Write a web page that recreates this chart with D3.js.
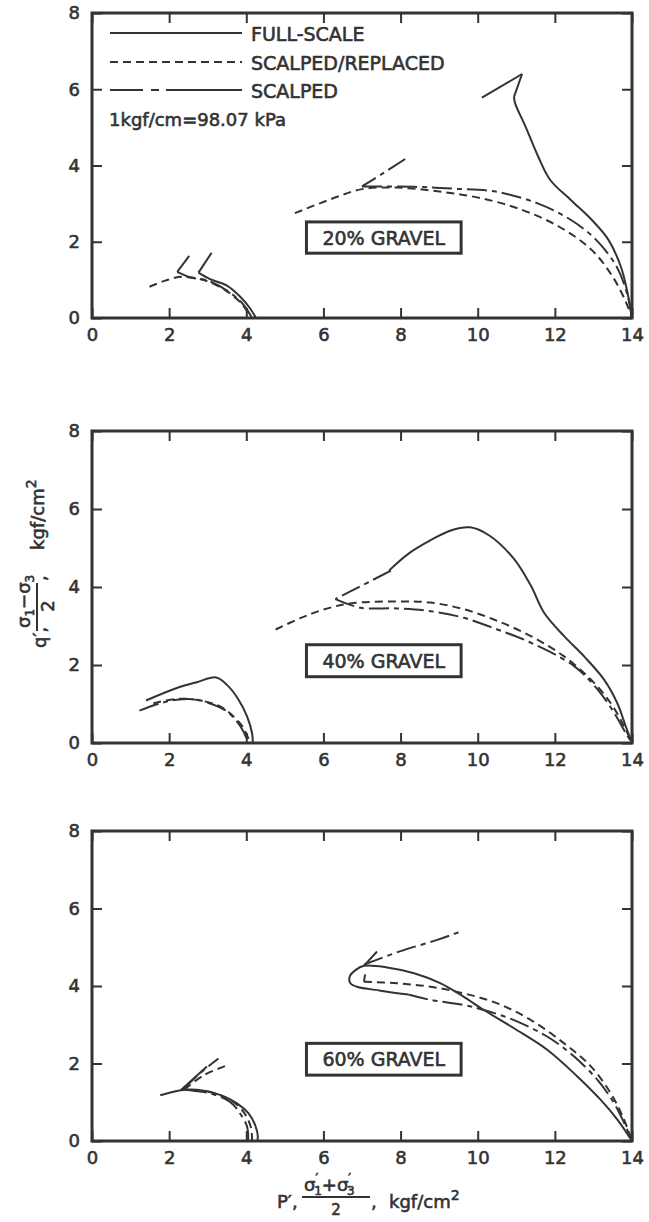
<!DOCTYPE html>
<html>
<head>
<meta charset="utf-8">
<title>Stress paths - 20, 40, 60% gravel</title>
<script src="https://cdnjs.cloudflare.com/ajax/libs/d3/7.8.5/d3.min.js"></script>
<style>
  body { margin: 0; background: #fff; }
  text { font-family: "DejaVu Sans", sans-serif; fill: #333; stroke: #333; stroke-width: 0.6px; }
</style>
</head>
<body>
<script>
// ---- data: p' (x) and q (y), kgf/cm2 ----
var xTicks = [0, 2, 4, 6, 8, 10, 12, 14];
var yTicks = [0, 2, 4, 6, 8];
var panelLabels = ['20% GRAVEL', '40% GRAVEL', '60% GRAVEL'];
var seriesNames = ['FULL-SCALE', 'SCALPED/REPLACED', 'SCALPED'];
var unitNote = '1kgf/cm=98.07 kPa';

// each curve is a list of pieces (pieces split at the sharp kinks)
var full20 = [
  [[3.10, 1.71], [2.76, 1.19]],
  [[2.76, 1.19], [3.06, 1.02], [3.5, 0.85], [3.85, 0.55], [4.1, 0.25], [4.25, 0]],
  [[10.11, 5.78], [11.15, 6.40]],
  [[11.15, 6.40], [10.94, 5.80]],
  [[10.94, 5.80], [10.97, 5.63], [11.24, 5.02], [11.57, 4.23], [11.88, 3.62], [12.42, 3.09],
   [12.96, 2.57], [13.39, 2.05], [13.71, 1.35], [13.87, 0.73], [14, 0]]
];
var replaced20 = [
  [[1.49, 0.82], [1.9, 0.98], [2.33, 1.08], [2.98, 0.97], [3.5, 0.7], [3.9, 0.35], [4.12, 0]],
  [[5.26, 2.75], [6.2, 3.12], [7.0, 3.38], [7.9, 3.42], [8.9, 3.33], [9.95, 3.17], [11.03, 2.88],
   [12.1, 2.4], [12.96, 1.78], [13.5, 1.08], [13.82, 0.47], [14, 0]]
];
var scalped20 = [
  [[2.52, 1.63], [2.21, 1.21]],
  [[2.21, 1.21], [2.54, 1.07], [3.0, 0.98], [3.5, 0.72], [3.9, 0.38], [4.15, 0]],
  [[8.12, 4.17], [7.55, 3.8], [7.0, 3.45]],
  [[7.0, 3.45], [8.34, 3.44], [9.4, 3.39], [10.49, 3.31], [11.57, 3.0], [12.42, 2.57],
   [13.07, 2.05], [13.6, 1.35], [13.87, 0.65], [14, 0]]
];

var full40 = [
  [[1.40, 1.09], [2.2, 1.41], [2.72, 1.56], [3.22, 1.68], [3.50, 1.49], [3.80, 1.11],
   [4.02, 0.68], [4.15, 0.25], [4.17, 0]],
  [[7.7, 4.42], [8.2, 4.85], [8.78, 5.2], [9.3, 5.45], [9.8, 5.53], [10.3, 5.32], [10.94, 4.72],
   [11.38, 4.03], [11.72, 3.34], [12.24, 2.74], [12.76, 2.22], [13.28, 1.62], [13.62, 1.02],
   [13.84, 0.42], [14, 0]]
];
var replaced40 = [
  [[1.59, 1.02], [2.2, 1.13], [2.75, 1.1], [3.32, 0.94], [3.67, 0.68], [3.93, 0.38], [4.1, 0]],
  [[4.76, 2.91], [5.4, 3.2], [6.0, 3.42], [6.7, 3.58], [7.91, 3.63], [8.78, 3.6], [9.64, 3.43],
   [10.51, 3.13], [11.38, 2.74], [12.24, 2.22], [12.94, 1.62], [13.45, 1.02], [13.8, 0.42], [14, 0]]
];
var scalped40 = [
  [[1.23, 0.83], [1.77, 1.02], [2.2, 1.11], [2.72, 1.11], [3.15, 0.98], [3.5, 0.81], [3.76, 0.55],
   [3.93, 0.29], [4.05, 0]],
  [[7.75, 4.42], [6.31, 3.69]],
  [[6.31, 3.69], [6.96, 3.47], [7.91, 3.45], [8.78, 3.38], [9.64, 3.21], [10.51, 2.91], [11.38, 2.57],
   [12.5, 1.97], [13.11, 1.37], [13.54, 0.77], [13.84, 0.25], [14, 0]]
];

var full60 = [
  [[4.28, 0], [4.30, 0.11], [4.23, 0.41], [4.06, 0.71], [3.76, 0.97], [3.32, 1.19], [2.72, 1.32],
   [2.3, 1.31], [1.77, 1.18]],
  [[2.3, 1.31], [2.98, 1.92]],
  [[14, 0], [13.63, 0.54], [13.19, 1.06], [12.59, 1.66], [11.81, 2.35], [10.94, 2.91], [10.16, 3.38],
   [9.64, 3.72], [9.04, 4.07], [8.35, 4.33], [7.65, 4.48], [7.05, 4.52], [6.83, 4.41], [6.68, 4.24],
   [6.70, 4.07], [6.87, 3.98], [7.48, 3.88], [8.2, 3.78]],
  [[7.05, 4.52], [7.39, 4.89]]
];
var replaced60 = [
  [[4.15, 0], [4.12, 0.35], [3.95, 0.72], [3.65, 1.02], [3.1, 1.25], [2.6, 1.31], [2.4, 1.33]],
  [[2.4, 1.33], [2.9, 1.7], [3.47, 1.94]],
  [[7.08, 4.3], [7.05, 4.11]],
  [[7.05, 4.11], [7.91, 4.07], [8.78, 3.98], [9.64, 3.81], [10.51, 3.55], [11.38, 3.12], [12.24, 2.52],
   [12.94, 1.92], [13.45, 1.23], [13.76, 0.63], [14, 0]]
];
var scalped60 = [
  [[4.05, 0], [4.02, 0.37], [3.84, 0.71], [3.58, 1.01], [3.1, 1.22], [2.6, 1.3], [2.35, 1.32]],
  [[2.35, 1.32], [2.8, 1.75], [3.28, 2.13]],
  [[8.2, 3.78], [8.78, 3.64], [9.64, 3.51], [10.16, 3.38], [10.94, 3.12], [11.81, 2.69], [12.5, 2.18],
   [13.11, 1.57], [13.54, 0.97], [13.8, 0.46], [14, 0]],
  [[7.05, 4.55], [8.0, 4.9], [8.95, 5.19], [9.6, 5.42]]
];

var curves = [[full20, replaced20, scalped20], [full40, replaced40, scalped40], [full60, replaced60, scalped60]];
// gravel label box, data units
var boxP = [5.56, 9.57];
var boxQ = [1.70, 2.52];

// ---- layout ----
var W = 649, H = 1222;
var left = 92, right = 632;
var tops = [13, 431, 831];
var bottoms = [318, 743, 1141];
var ink = '#333';
var dashes = [null, '8,5', '20,5,5,5'];

var svg = d3.select('body').append('svg').attr('width', W).attr('height', H);

var x = d3.scaleLinear().domain([0, 14]).range([left, right]);

function styleAxis(sel) {
    sel.select('.domain').remove();
    sel.selectAll('line').attr('stroke', ink).attr('stroke-width', 2);
    sel.selectAll('text').attr('fill', ink).style('font-size', '18px')
        .style('font-family', '"DejaVu Sans", sans-serif');
}

panelLabels.forEach(function (label, i) {
    var y = d3.scaleLinear().domain([0, 8]).range([bottoms[i], tops[i]]);
    var g = svg.append('g');

    g.append('g').attr('transform', 'translate(0,' + bottoms[i] + ')')
        .call(d3.axisBottom(x).tickValues(xTicks).tickSize(-10).tickPadding(10)).call(styleAxis);
    g.append('g').attr('transform', 'translate(0,' + tops[i] + ')')
        .call(d3.axisTop(x).tickValues(xTicks).tickSize(-10).tickFormat('')).call(styleAxis);
    g.append('g').attr('transform', 'translate(' + left + ',0)')
        .call(d3.axisLeft(y).tickValues(yTicks).tickSize(-10).tickPadding(12)).call(styleAxis);
    g.append('g').attr('transform', 'translate(' + right + ',0)')
        .call(d3.axisRight(y).tickValues(yTicks).tickSize(-10).tickFormat('')).call(styleAxis);

    g.append('rect')
        .attr('x', left).attr('y', tops[i])
        .attr('width', right - left).attr('height', bottoms[i] - tops[i])
        .attr('fill', 'none').attr('stroke', ink).attr('stroke-width', 3);

    var line = d3.line()
        .x(function (d) { return x(d[0]); })
        .y(function (d) { return y(d[1]); })
        .curve(d3.curveCatmullRom.alpha(0.5));

    curves[i].forEach(function (pieces, s) {
        g.selectAll('.c' + s)
            .data(pieces)
            .enter().append('path')
            .attr('class', 'c' + s)
            .attr('d', line)
            .attr('fill', 'none')
            .attr('stroke', ink)
            .attr('stroke-width', 2)
            .attr('stroke-linejoin', 'round')
            .attr('stroke-dasharray', dashes[s]);
    });

    // label box
    g.append('rect')
        .attr('x', x(boxP[0])).attr('y', y(boxQ[1]))
        .attr('width', x(boxP[1]) - x(boxP[0])).attr('height', y(boxQ[0]) - y(boxQ[1]))
        .attr('fill', '#fff').attr('stroke', ink).attr('stroke-width', 3);
    g.append('text')
        .attr('x', (x(boxP[0]) + x(boxP[1])) / 2)
        .attr('y', (y(boxQ[0]) + y(boxQ[1])) / 2 + 7)
        .attr('text-anchor', 'middle')
        .style('font-size', '19px')
        .text(label);
});

// legend (top panel)
var legY = [33, 62, 90];
var legDash = [null, '8,5', '33,8,8,7,76'];
seriesNames.forEach(function (name, s) {
    svg.append('line')
        .attr('x1', 110).attr('x2', 242).attr('y1', legY[s]).attr('y2', legY[s])
        .attr('stroke', ink).attr('stroke-width', 2)
        .attr('stroke-dasharray', legDash[s]);
    svg.append('text')
        .attr('x', 251).attr('y', legY[s] + 8)
        .style('font-size', '19px')
        .text(name);
});
svg.append('text')
    .attr('x', 109).attr('y', 126)
    .style('font-size', '18px')
    .text(unitNote);

// y axis title (middle panel), rotated
var yt = svg.append('g').attr('transform', 'rotate(-90)').style('font-size', '18px');
yt.append('text').attr('x', -648).attr('y', 46).text('q\u2032,');
var num = yt.append('text').attr('x', -628).attr('y', 30);
num.append('tspan').text('\u03c3');
num.append('tspan').attr('dy', 4).style('font-size', '12px').text('1');
num.append('tspan').attr('dy', -4).text('\u2212\u03c3');
num.append('tspan').attr('dy', 4).style('font-size', '12px').text('3');
yt.append('line').attr('x1', -631).attr('x2', -583).attr('y1', 37).attr('y2', 37)
    .attr('stroke', ink).attr('stroke-width', 2);
yt.append('text').attr('x', -606).attr('y', 54).attr('text-anchor', 'middle').text('2');
yt.append('text').attr('x', -581).attr('y', 46).text(',');
var yu = yt.append('text').attr('x', -550).attr('y', 44);
yu.append('tspan').text('kgf/cm');
yu.append('tspan').attr('dy', -8).style('font-size', '14px').text('2');

// x axis title (bottom)
var xt = svg.append('g').style('font-size', '18px');
xt.append('text').attr('x', 277).attr('y', 1208).text('P\u2032,');
var xn = xt.append('text').attr('x', 304).attr('y', 1191);
xn.append('tspan').text('\u03c3');
xn.append('tspan').attr('dy', -9).style('font-size', '12px').text('\u2032');
xn.append('tspan').attr('dx', -4).attr('dy', 13).style('font-size', '12px').text('1');
xn.append('tspan').attr('dy', -4).text('+\u03c3');
xn.append('tspan').attr('dy', -9).style('font-size', '12px').text('\u2032');
xn.append('tspan').attr('dx', -4).attr('dy', 13).style('font-size', '12px').text('3');
xt.append('line').attr('x1', 302).attr('x2', 370).attr('y1', 1197).attr('y2', 1197)
    .attr('stroke', ink).attr('stroke-width', 2);
xt.append('text').attr('x', 336).attr('y', 1215).attr('text-anchor', 'middle')
    .style('font-size', '15px').text('2');
xt.append('text').attr('x', 371).attr('y', 1208).text(',');
var xu = xt.append('text').attr('x', 389).attr('y', 1208);
xu.append('tspan').text('kgf/cm');
xu.append('tspan').attr('dy', -8).style('font-size', '14px').text('2');
</script>
</body>
</html>
